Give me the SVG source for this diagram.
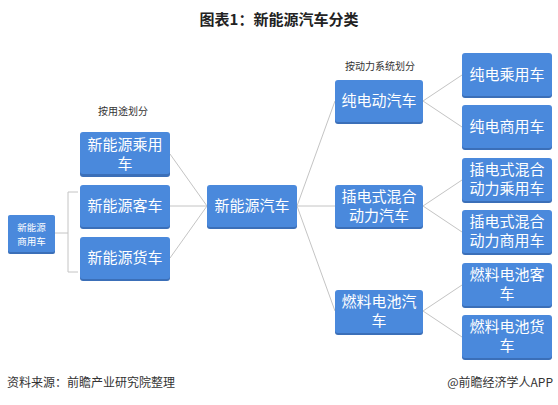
<svg xmlns="http://www.w3.org/2000/svg" width="558" height="405" viewBox="0 0 558 405">
<style>
.bx{fill:#4a89dc}
.sh{fill:#3b6fb8}
.t{font-family:"Noto Sans CJK SC","Noto Sans",sans-serif;font-size:15px;fill:#ffffff;text-anchor:middle}
.ts{font-family:"Noto Sans CJK SC","Noto Sans",sans-serif;font-size:9.5px;fill:#ffffff;text-anchor:middle}
.s{font-family:"Noto Sans CJK SC","Noto Sans",sans-serif;font-size:10px;fill:#333333;text-anchor:middle}
.c{stroke:#c4c4c4;stroke-width:1;fill:none}
</style>
<rect width="558" height="405" fill="#ffffff"/>
<text x="279" y="25" font-family="'Noto Sans CJK SC',sans-serif" font-size="15" font-weight="bold" fill="#222" text-anchor="middle">图表1：新能源汽车分类</text>
<text class="s" x="123" y="115">按用途划分</text>
<text class="s" x="380" y="70">按动力系统划分</text>
<g id="connectors">
<path class="c" d="M78,192 L68,192 L68,272 L78,272 M55,233 L68,233"/>
<path class="c" d="M170,154 L207,206 M170,206 L207,206 M170,258 L207,206"/>
<path class="c" d="M297,206 L335,101 M297,206 L335,206 M297,206 L335,311"/>
<path class="c" d="M423,101 L462,75 M423,101 L462,127"/>
<path class="c" d="M423,206 L462,180 M423,206 L462,232"/>
<path class="c" d="M423,311 L462,285 M423,311 L462,337"/>
</g>
<g id="n-shangyong">
<rect class="sh" x="8" y="216" width="47" height="38" rx="2"/>
<rect class="bx" x="8" y="215" width="47" height="37" rx="2"/>
<text class="ts" x="31.5" y="231">新能源</text>
<text class="ts" x="31.5" y="245">商用车</text>
</g>
<g id="n-chengyong">
<rect class="sh" x="80" y="134" width="90" height="43" rx="3"/>
<rect class="bx" x="80" y="132" width="90" height="42" rx="3"/>
<text class="t" x="125" y="150">新能源乘用</text>
<text class="t" x="125" y="169">车</text>
</g>
<g id="n-keche">
<rect class="sh" x="80" y="187" width="90" height="42" rx="3"/>
<rect class="bx" x="80" y="185" width="90" height="42" rx="3"/>
<text class="t" x="125" y="211">新能源客车</text>
</g>
<g id="n-huoche">
<rect class="sh" x="80" y="239" width="90" height="42" rx="3"/>
<rect class="bx" x="80" y="237" width="90" height="42" rx="3"/>
<text class="t" x="125" y="263">新能源货车</text>
</g>
<g id="n-center">
<rect class="sh" x="207" y="187" width="90" height="42" rx="3"/>
<rect class="bx" x="207" y="185" width="90" height="42" rx="3"/>
<text class="t" x="252" y="211">新能源汽车</text>
</g>
<g id="n-chundian">
<rect class="sh" x="335" y="82" width="88" height="42" rx="3"/>
<rect class="bx" x="335" y="80" width="88" height="42" rx="3"/>
<text class="t" x="379" y="106">纯电动汽车</text>
</g>
<g id="n-chadian">
<rect class="sh" x="335" y="187" width="88" height="42" rx="3"/>
<rect class="bx" x="335" y="185" width="88" height="42" rx="3"/>
<text class="t" x="379" y="202">插电式混合</text>
<text class="t" x="379" y="221">动力汽车</text>
</g>
<g id="n-ranliao">
<rect class="sh" x="335" y="292" width="88" height="43" rx="3"/>
<rect class="bx" x="335" y="290" width="88" height="43" rx="3"/>
<text class="t" x="379" y="307">燃料电池汽</text>
<text class="t" x="379" y="326">车</text>
</g>
<g id="n-cd-cheng">
<rect class="sh" x="462" y="55" width="90" height="43" rx="3"/>
<rect class="bx" x="462" y="53" width="90" height="43" rx="3"/>
<text class="t" x="507" y="80">纯电乘用车</text>
</g>
<g id="n-cd-shang">
<rect class="sh" x="462" y="107" width="90" height="43" rx="3"/>
<rect class="bx" x="462" y="105" width="90" height="43" rx="3"/>
<text class="t" x="507" y="132">纯电商用车</text>
</g>
<g id="n-cha-cheng">
<rect class="sh" x="462" y="160" width="90" height="43" rx="3"/>
<rect class="bx" x="462" y="158" width="90" height="43" rx="3"/>
<text class="t" x="507" y="175">插电式混合</text>
<text class="t" x="507" y="194">动力乘用车</text>
</g>
<g id="n-cha-shang">
<rect class="sh" x="462" y="212" width="90" height="43" rx="3"/>
<rect class="bx" x="462" y="210" width="90" height="43" rx="3"/>
<text class="t" x="507" y="227">插电式混合</text>
<text class="t" x="507" y="246">动力商用车</text>
</g>
<g id="n-rl-ke">
<rect class="sh" x="462" y="265" width="90" height="43" rx="3"/>
<rect class="bx" x="462" y="263" width="90" height="43" rx="3"/>
<text class="t" x="507" y="280">燃料电池客</text>
<text class="t" x="507" y="299">车</text>
</g>
<g id="n-rl-huo">
<rect class="sh" x="462" y="317" width="90" height="43" rx="3"/>
<rect class="bx" x="462" y="315" width="90" height="43" rx="3"/>
<text class="t" x="507" y="332">燃料电池货</text>
<text class="t" x="507" y="351">车</text>
</g>
<text x="7" y="387" font-family="'Noto Sans CJK SC',sans-serif" font-size="12" fill="#333">资料来源：前瞻产业研究院整理</text>
<text x="553" y="387" font-family="'Noto Sans CJK SC',sans-serif" font-size="12" fill="#333" text-anchor="end">@前瞻经济学人APP</text>
</svg>
